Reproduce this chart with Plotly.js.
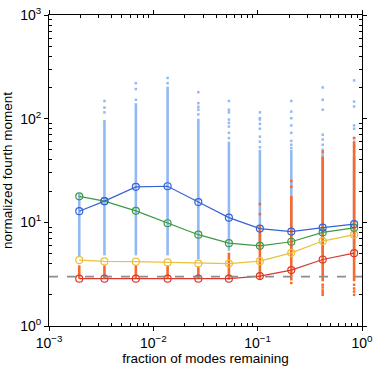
<!DOCTYPE html>
<html>
<head>
<meta charset="utf-8">
<script src="https://cdn.plot.ly/plotly-3.0.1.min.js"></script>
<style>
  html, body { margin: 0; padding: 0; background: #fff; }
  #chart { width: 374px; height: 369px; }
</style>
</head>
<body>
<div id="chart"></div>
<script>
// fraction of modes kept at each step
var fractions = [0.00195, 0.0034, 0.0068, 0.0137, 0.027, 0.053, 0.105, 0.21, 0.42, 0.84];

// mean normalized fourth moment per curve
var blueMean   = [12.8, 16.0, 22.0, 22.3, 15.7, 11.1, 8.7, 8.15, 8.9, 9.6];
var greenMean  = [17.8, 16.0, 12.9, 9.8, 7.6, 6.3, 5.94, 6.5, 8.0, 8.85];
var yellowMean = [4.32, 4.2, 4.17, 4.1, 4.0, 4.0, 4.22, 5.08, 6.6, 7.6];
var redMean    = [2.86, 2.86, 2.86, 2.86, 2.86, 2.86, 3.03, 3.46, 4.38, 5.04];

// light blue cloud: dense range + sparse points above it
var blueLo = [4.7, 4.8, 4.8, 4.8, 4.4, 5.3, 5.5, 5.0, 5.0, 5.0];
var blueHi = [19, 97, 141, 204, 100, 60, 50, 50, 45, 43];
var blueOutliers = [
  [],
  [148, 128, 115],
  [220, 193, 152],
  [247, 220],
  [180, 141, 130, 122, 110],
  [148, 122, 115, 98, 91, 84, 73, 65],
  [115, 101, 98, 89, 80, 67, 60, 53],
  [148, 117, 101, 86, 73, 61, 56, 52],
  [200, 152, 122, 70, 63, 56, 50, 46],
  [234, 146, 131, 86, 80, 65, 60, 54, 48]
];

// orange cloud
var orangeLo = [2.86, 2.86, 2.86, 2.86, 2.86, 2.8, 2.8, 2.75, 2.7, 2.7];
var orangeHi = [3.85, 3.85, 3.85, 3.85, 3.75, 5.1, 9.2, 18, 43, 60];
var orangeOutliers = [
  [], [], [], [], [], [], [12, 15],
  [22, 25, 2.6],
  [48, 2.5, 2.35, 2.2, 2.1, 2.0],
  [65, 2.5, 2.3, 2.15, 2.0]
];

var gaussLevel = 3;

var xTickVals = [0.001, 0.01, 0.1, 1];
var xTickText = ['10<sup>\u22123</sup>', '10<sup>\u22122</sup>', '10<sup>\u22121</sup>', '10<sup>0</sup>'];
var yTickVals = [1, 10, 100, 1000];
var yTickText = ['10<sup>0</sup>', '10<sup>1</sup>', '10<sup>2</sup>', '10<sup>3</sup>'];

function minorTicks(lo, hi) {
  var out = [];
  for (var e = lo; e < hi; e++) {
    for (var m = 2; m <= 9; m++) out.push(m * Math.pow(10, e));
  }
  return out;
}

function segments(lo, hi) {
  var xs = [], ys = [];
  fractions.forEach(function (f, i) {
    xs.push(f, f, null);
    ys.push(lo[i], hi[i], null);
  });
  return {x: xs, y: ys};
}

function dots(list) {
  var xs = [], ys = [];
  list.forEach(function (col, i) {
    col.forEach(function (v) { xs.push(fractions[i]); ys.push(v); });
  });
  return {x: xs, y: ys};
}

var cloudBlue = '#93b9f2';
var cloudOrange = '#f8692b';

var bSeg = segments(blueLo, blueHi);
var bDot = dots(blueOutliers);
var oSeg = segments(orangeLo, orangeHi);
var oDot = dots(orangeOutliers);

function meanTrace(y, color) {
  return {
    x: fractions, y: y, mode: 'lines+markers', type: 'scatter',
    line: {color: color, width: 1.2},
    marker: {symbol: 'circle-open', size: 7, color: color, line: {width: 1.2, color: color}},
    hoverinfo: 'skip'
  };
}

var data = [
  {x: bSeg.x, y: bSeg.y, mode: 'lines', line: {color: cloudBlue, width: 2.6}, hoverinfo: 'skip'},
  {x: bDot.x, y: bDot.y, mode: 'markers', marker: {symbol: 'square', size: 2.5, color: cloudBlue}, hoverinfo: 'skip'},
  {x: oSeg.x, y: oSeg.y, mode: 'lines', line: {color: cloudOrange, width: 2.6}, hoverinfo: 'skip'},
  {x: oDot.x, y: oDot.y, mode: 'markers', marker: {symbol: 'square', size: 2.5, color: cloudOrange}, hoverinfo: 'skip'},
  meanTrace(yellowMean, '#e9c13c'),
  meanTrace(redMean, '#d63a2e'),
  meanTrace(greenMean, '#3d9a44'),
  meanTrace(blueMean, '#3563d4')
];

var axisCommon = {
  type: 'log',
  showgrid: false,
  zeroline: false,
  showline: true,
  linecolor: '#000',
  linewidth: 1,
  mirror: 'allticks',
  ticks: 'outside',
  ticklen: 4,
  tickcolor: '#000',
  tickmode: 'array',
  tickfont: {family: 'Liberation Sans, Arial, sans-serif', size: 14, color: '#000'}
};

var layout = {
  width: 374,
  height: 369,
  margin: {l: 49, r: 12, t: 15, b: 43},
  paper_bgcolor: '#fff',
  plot_bgcolor: '#fff',
  showlegend: false,
  font: {family: 'Liberation Sans, Arial, sans-serif', color: '#000'},
  xaxis: Object.assign({}, axisCommon, {
    range: [-3, 0],
    tickvals: xTickVals,
    ticktext: xTickText,
    minor: {tickmode: 'array', tickvals: minorTicks(-3, 0), ticks: 'inside', ticklen: 3, tickcolor: '#000'},
    title: {text: 'fraction of modes remaining', font: {size: 13.5}, standoff: 2}
  }),
  yaxis: Object.assign({}, axisCommon, {
    range: [0, 3],
    tickvals: yTickVals,
    ticktext: yTickText,
    minor: {tickmode: 'array', tickvals: minorTicks(0, 3), ticks: 'inside', ticklen: 3, tickcolor: '#000'},
    title: {text: 'normalized fourth moment', font: {size: 13.5}, standoff: 4}
  }),
  shapes: [{
    type: 'line', xref: 'paper', x0: 0, x1: 1, yref: 'y', y0: gaussLevel, y1: gaussLevel,
    line: {color: '#8c8c8c', width: 1.8, dash: 'dash'}, layer: 'above'
  }]
};

Plotly.newPlot('chart', data, layout, {displayModeBar: false, staticPlot: true});
</script>
</body>
</html>
